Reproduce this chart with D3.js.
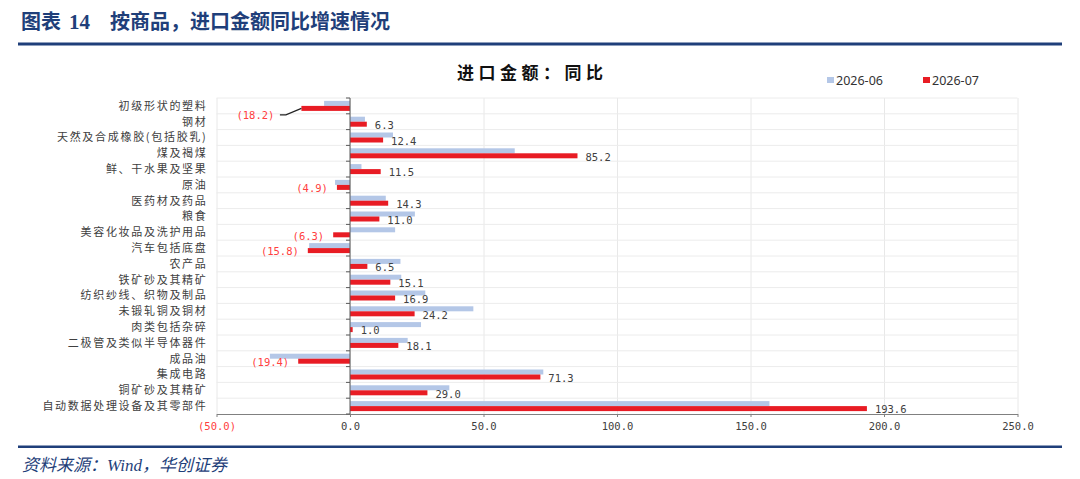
<!DOCTYPE html>
<html>
<head>
<meta charset="utf-8">
<script src="https://cdn.jsdelivr.net/npm/d3@7"></script>
<style>
  body { margin: 0; background: #fff; }
  svg { display: block; }
</style>
</head>
<body>
<div id="chart"></div>
<script>
// categories, top to bottom
var categories = ["初级形状的塑料", "钢材", "天然及合成橡胶(包括胶乳)", "煤及褐煤", "鲜、干水果及坚果",
  "原油", "医药材及药品", "粮食", "美容化妆品及洗护用品", "汽车包括底盘", "农产品", "铁矿砂及其精矿",
  "纺织纱线、织物及制品", "未锻轧铜及铜材", "肉类包括杂碎", "二极管及类似半导体器件", "成品油",
  "集成电路", "铜矿砂及其精矿", "自动数据处理设备及其零部件"];
// 2026-06 (no labels there)
var jun = [-9.7, 5.6, 16.1, 61.7, 4.3, -5.6, 13.4, 24.3, 16.9, -15.3, 18.9, 19.2, 28.2, 46.2, 26.6, 21.6, -30.0, 72.4, 37.2, 157.1];
var jul = [-18.2, 6.3, 12.4, 85.2, 11.5, -4.9, 14.3, 11.0, -6.3, -15.8, 6.5, 15.1, 16.9, 24.2, 1.0, 18.1, -19.4, 71.3, 29.0, 193.6];
var seriesNames = ["2026-06", "2026-07"];
var xTicks = [-50, 0, 50, 100, 150, 200, 250];

var W = 1080, H = 479;
var plot = {left: 216.5, right: 1017.5, top: 98, bottom: 414};
var colors = {"2026-06": "#b4c7e7", "2026-07": "#e81c24"};
var navy = "#1f3f7a";
var numFont = "'DejaVu Sans Mono', 'Liberation Mono', monospace";
var cjkFont = "'Noto Sans CJK SC', sans-serif";

var svg = d3.select("#chart").append("svg")
  .attr("width", W).attr("height", H);

// header
svg.append("text")
  .attr("x", 21).attr("y", 29)
  .attr("fill", navy).attr("font-size", 20).attr("font-weight", 700)
  .attr("font-family", cjkFont)
  .text("图表");
svg.append("text")
  .attr("x", 69).attr("y", 29)
  .attr("fill", navy).attr("font-size", 21).attr("font-weight", 700)
  .attr("font-family", "'Liberation Serif', serif")
  .text("14");
svg.append("text")
  .attr("x", 110).attr("y", 29)
  .attr("fill", navy).attr("font-size", 20).attr("font-weight", 700)
  .attr("font-family", cjkFont)
  .text("按商品，进口金额同比增速情况");
svg.append("rect").attr("x", 18).attr("y", 42.5).attr("width", 1044).attr("height", 3).attr("fill", navy);

// footer
svg.append("rect").attr("x", 18).attr("y", 445.5).attr("width", 1044).attr("height", 2.5).attr("fill", navy);
svg.append("text")
  .attr("x", 22).attr("y", 471)
  .attr("fill", navy).attr("font-size", 17).attr("font-style", "italic")
  .attr("font-family", "'Liberation Serif', 'Noto Sans CJK SC', serif")
  .text("资料来源：Wind，华创证券");

// chart title
svg.append("text")
  .attr("x", 457).attr("y", 79)
  .attr("fill", "#111").attr("font-size", 17).attr("font-weight", 700)
  .attr("letter-spacing", "4.5px")
  .attr("font-family", cjkFont)
  .text("进口金额：同比");

// legend
var leg = svg.append("g").selectAll("g")
  .data(seriesNames)
  .enter().append("g")
    .attr("transform", function(d, i) { return "translate(" + (827 + i * 96) + ",77)"; });
leg.append("rect").attr("width", 7).attr("height", 6)
  .attr("fill", function(d) { return colors[d]; });
leg.append("text").attr("x", 9).attr("y", 3).attr("dy", "0.36em")
  .attr("font-size", 12.5).attr("fill", "#333")
  .attr("font-family", "'Noto Sans', sans-serif")
  .text(function(d) { return d; });

// scales
var x = d3.scaleLinear().domain([-50, 250]).range([plot.left, plot.right]);
var y = d3.scaleBand().domain(categories).range([plot.top, plot.bottom]);
var ySub = d3.scaleBand().domain(seriesNames).range([0, y.bandwidth()]).paddingInner(0).paddingOuter(0.58);

function fmt(v) {
  return v < 0 ? "(" + Math.abs(v).toFixed(1) + ")" : v.toFixed(1);
}

// grid: vertical
svg.append("g")
  .attr("transform", "translate(0," + plot.bottom + ")")
  .call(d3.axisBottom(x).tickValues(xTicks).tickSize(-(plot.bottom - plot.top)).tickFormat(""))
  .call(function(g) { g.select(".domain").remove(); })
  .selectAll("line").attr("stroke", "#e8e8e8");

// grid: horizontal at band edges
var edges = categories.map(function(c) { return y(c); });
svg.append("g").selectAll("line")
  .data(edges)
  .enter().append("line")
    .attr("x1", plot.left).attr("x2", plot.right)
    .attr("y1", function(d) { return d; }).attr("y2", function(d) { return d; })
    .attr("stroke", "#ececec");

// bars
var rows = categories.map(function(c, i) {
  return {name: c, values: [{key: "2026-06", v: jun[i]}, {key: "2026-07", v: jul[i]}]};
});
svg.append("g").selectAll("g")
  .data(rows)
  .enter().append("g")
    .attr("transform", function(d) { return "translate(0," + y(d.name) + ")"; })
  .selectAll("rect")
  .data(function(d) { return d.values; })
  .enter().append("rect")
    .attr("x", function(d) { return x(Math.min(0, d.v)); })
    .attr("width", function(d) { return Math.abs(x(d.v) - x(0)); })
    .attr("y", function(d) { return ySub(d.key); })
    .attr("height", ySub.bandwidth())
    .attr("fill", function(d) { return colors[d.key]; });

// x axis
var xAxis = svg.append("g")
  .attr("transform", "translate(0," + plot.bottom + ")")
  .call(d3.axisBottom(x).tickValues(xTicks).tickSize(3).tickSizeOuter(0).tickFormat(fmt));
xAxis.select(".domain").attr("stroke", "#808080");
xAxis.selectAll(".tick line").attr("stroke", "#808080");
xAxis.selectAll(".tick text")
  .attr("y", 12.5).attr("dy", "0.32em")
  .attr("font-size", 10.5).attr("font-family", numFont)
  .attr("fill", function(d) { return d < 0 ? "#ff4040" : "#404040"; });

// category axis on the zero line
var yAxis = svg.append("g")
  .attr("transform", "translate(" + x(0) + ",0)");
yAxis.append("line")
  .attr("y1", plot.top).attr("y2", plot.bottom)
  .attr("stroke", "#595959");
yAxis.selectAll(".tk")
  .data(edges.concat([plot.bottom]))
  .enter().append("line")
    .attr("x1", -4).attr("x2", 0)
    .attr("y1", function(d) { return d; }).attr("y2", function(d) { return d; })
    .attr("stroke", "#595959");

// category labels
svg.append("g").selectAll("text")
  .data(categories)
  .enter().append("text")
    .attr("x", 207.5)
    .attr("y", function(d) { return y(d) + y.bandwidth() / 2; })
    .attr("dy", "0.36em")
    .attr("text-anchor", "end")
    .attr("font-size", 11).attr("letter-spacing", "1.7px")
    .attr("font-family", cjkFont).attr("fill", "#404040")
    .text(function(d) { return d; });

// value labels for 2026-07
var redMid = ySub("2026-07") + ySub.bandwidth() / 2;
var lab = svg.append("g").selectAll("g")
  .data(categories)
  .enter().append("g")
    .attr("transform", function(d) { return "translate(0," + y(d) + ")"; });
lab.append("text")
  .attr("x", function(d, i) {
    if (i === 0) return x(jul[i]) - 27;
    return jul[i] < 0 ? x(jul[i]) - 9 : x(jul[i]) + 8;
  })
  .attr("y", function(d, i) { return i === 0 ? redMid + 6.5 : redMid + 1; })
  .attr("dy", "0.36em")
  .attr("text-anchor", function(d, i) { return jul[i] < 0 ? "end" : "start"; })
  .attr("font-size", 10.5).attr("font-family", numFont)
  .attr("fill", function(d, i) { return jul[i] < 0 ? "#ff4040" : "#404040"; })
  .text(function(d, i) { return fmt(jul[i]); });

// leader line for the dragged label
svg.append("path")
  .attr("d", "M" + (x(jul[0]) - 21.5) + "," + (y(categories[0]) + redMid + 6.5) +
    "H" + (x(jul[0]) - 15.5) + "L" + x(jul[0]) + "," + (y(categories[0]) + redMid))
  .attr("fill", "none").attr("stroke", "#222").attr("stroke-width", 1.2);
</script>
</body>
</html>
